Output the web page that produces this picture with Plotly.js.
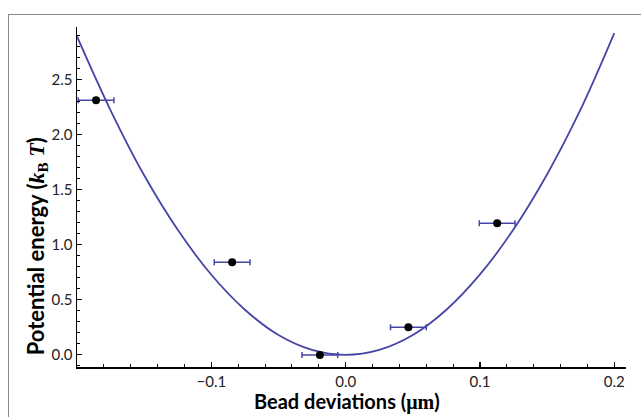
<!DOCTYPE html>
<html>
<head>
<meta charset="utf-8">
<script src="https://cdn.plot.ly/plotly-3.0.1.min.js"></script>
<style>
  html, body { margin:0; padding:0; background:#fff; }
  #frame { position:absolute; left:8px; top:14px; width:700px; height:500px;
           border-left:1.5px solid #8a8a8a; border-top:1.5px solid #8a8a8a; }
  #chart { position:absolute; left:0; top:0; width:641px; height:417px; }
</style>
</head>
<body>
<div id="frame"></div>
<div id="chart"></div>
<script>
// Measured bead positions (µm) and energies (kBT)
const pointX = [-0.1858, -0.0845, -0.0192, 0.0467, 0.1128];
const pointY = [2.312, 0.84, 0.0, 0.251, 1.194];
const pointXErr = [0.0133, 0.0133, 0.0133, 0.0133, 0.0133];

// Fitted harmonic potential
const curveX = [-0.2, -0.175, -0.15, -0.125, -0.1, -0.075, -0.05, -0.025, 0,
                0.025, 0.05, 0.075, 0.1, 0.125, 0.15, 0.175, 0.2];
const curveY = [2.89, 2.22, 1.63, 1.135, 0.727, 0.41, 0.18, 0.045, 0,
                0.045, 0.18, 0.41, 0.73, 1.14, 1.64, 2.23, 2.92];

const xTickVals = [-0.1, 0.0, 0.1, 0.2];
const yTickVals = [0.0, 0.5, 1.0, 1.5, 2.0, 2.5];

const blue = '#4646a6';

const traces = [
  {
    x: curveX, y: curveY, type: 'scatter', mode: 'lines',
    line: {color: blue, width: 1.8, shape: 'spline', smoothing: 1.0},
    hoverinfo: 'skip', cliponaxis: true
  },
  {
    x: pointX, y: pointY, type: 'scatter', mode: 'markers',
    marker: {color: '#000', size: 8},
    error_x: {type: 'data', array: pointXErr, visible: true, color: blue, thickness: 1.5, width: 3},
    cliponaxis: false
  }
];

const tickFont = {family: 'Lato, "Open Sans", sans-serif', size: 15, color: '#222'};

const layout = {
  width: 641, height: 417,
  margin: {l: 77, r: 15, t: 27, b: 50},
  paper_bgcolor: 'rgba(0,0,0,0)', plot_bgcolor: 'rgba(0,0,0,0)',
  showlegend: false,
  xaxis: {
    range: [-0.2, 0.2087], showgrid: false, zeroline: false,
    showline: true, linecolor: '#000', linewidth: 1.5,
    ticks: 'inside', ticklen: 5, tickwidth: 1.2, tickcolor: '#000',
    tickvals: xTickVals, tickformat: '.1f', tickfont: tickFont,
    minor: {dtick: 0.02, tick0: 0, ticks: 'inside', ticklen: 3, tickwidth: 1, tickcolor: '#000'}
  },
  yaxis: {
    range: [-0.11, 2.976], showgrid: false, zeroline: false,
    showline: true, linecolor: '#000', linewidth: 1.5,
    ticks: 'inside', ticklen: 5, tickwidth: 1.2, tickcolor: '#000',
    tickvals: yTickVals, tickformat: '.1f', tickfont: tickFont,
    minor: {dtick: 0.1, tick0: 0, ticks: 'inside', ticklen: 3, tickwidth: 1, tickcolor: '#000'}
  },
  annotations: [
    {
      text: '<b>Bead deviations (<span style="font-family:\'Liberation Serif\'">μm</span>)</b>',
      xref: 'paper', yref: 'paper', x: 0.492, y: -0.1,
      xanchor: 'center', yanchor: 'middle', showarrow: false,
      font: {family: 'Lato, "Open Sans", sans-serif', size: 20, color: '#000'}
    },
    {
      text: '<b>Potential energy (<span style="font-family:\'Liberation Serif\'"><i>k</i><sub>B</sub> <i>T</i></span>)</b>',
      xref: 'paper', yref: 'paper', x: -0.0729, y: 0.355, textangle: -90,
      xanchor: 'center', yanchor: 'middle', showarrow: false,
      font: {family: 'Lato, "Open Sans", sans-serif', size: 22, color: '#000'}
    }
  ]
};

Plotly.newPlot('chart', traces, layout, {displayModeBar: false, staticPlot: true});
</script>
</body>
</html>
